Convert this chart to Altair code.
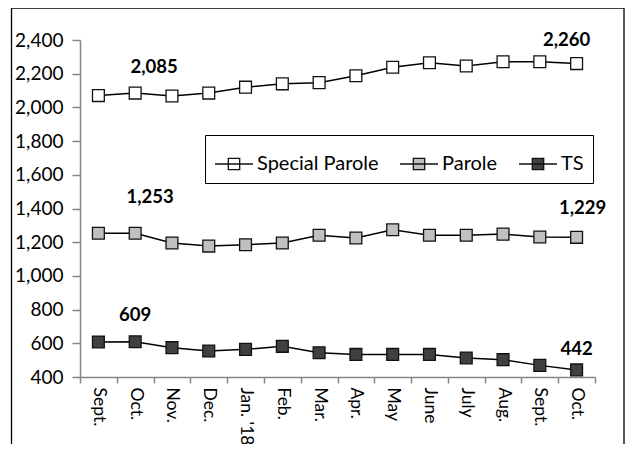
import altair as alt
import pandas as pd

months = ["Sept.", "Oct.", "Nov.", "Dec.", "Jan. '18", "Feb.", "Mar.", "Apr.",
          "May", "June", "July", "Aug.", "Sept.", "Oct."]
series_names = ["Special Parole", "Parole", "TS"]
special_parole = [2070, 2085, 2068, 2085, 2120, 2140, 2147, 2188, 2238, 2265, 2246, 2271, 2271, 2260]
parole = [1253, 1253, 1195, 1177, 1185, 1195, 1241, 1225, 1274, 1241, 1241, 1248, 1231, 1229]
ts = [608, 609, 574, 554, 564, 582, 544, 534, 534, 534, 513, 503, 469, 442]
fills = ["#FFFFFF", "#C0C0C0", "#404040"]

rows = []
for name, vals in zip(series_names, [special_parole, parole, ts]):
    for i, v in enumerate(vals):
        rows.append({"idx": i, "series": name, "value": v})
df = pd.DataFrame(rows)

FONT = "Lato"
label_expr = "[" + ",".join("'" + m.replace("'", "\\'") + "'" for m in months) + "][datum.value]"

x_enc = alt.X("idx:O",
              scale=alt.Scale(type="band", paddingInner=0, paddingOuter=0),
              axis=alt.Axis(title=None, labelExpr=label_expr, labelAngle=90,
                            tickBand="extent", tickSize=6, labelPadding=4,
                            labelFontSize=17.5, labelFont=FONT, labelColor="#000",
                            domainColor="#868686", tickColor="#868686",
                            domainWidth=1.5, tickWidth=1.5))
y_enc = alt.Y("value:Q",
              scale=alt.Scale(domain=[400, 2400], nice=False, zero=False),
              axis=alt.Axis(title=None, values=list(range(400, 2401, 200)), format=",.0f",
                            grid=False, tickSize=8, labelPadding=9,
                            labelFontSize=19, labelFont=FONT, labelColor="#000",
                            domainColor="#868686", tickColor="#868686",
                            domainWidth=1.5, tickWidth=1.5))

base = alt.Chart(df)
lines = base.mark_line(color="#000", strokeWidth=1.5).encode(x=x_enc, y=y_enc, detail="series:N")
points = base.mark_point(shape="square", filled=True, size=140, stroke="#111",
                         strokeWidth=1.3, opacity=1).encode(
    x=x_enc, y=y_enc,
    fill=alt.Fill("series:N",
                  scale=alt.Scale(domain=series_names, range=fills),
                  legend=alt.Legend(title=None, orient="none", legendX=125, legendY=95,
                                    direction="horizontal",
                                    symbolType="M-1,0H1M-0.3,-0.3H0.3V0.3H-0.3Z",
                                    symbolSize=1444, symbolStrokeColor="#111",
                                    symbolStrokeWidth=1.3, labelFontSize=20,
                                    labelFont=FONT, labelColor="#000", labelOffset=3,
                                    columnPadding=18, padding=9,
                                    strokeColor="#000", fillColor="#FFFFFF")),
    order=alt.Order("series:N"))

# data labels (month index, value, text)
label_specs = [
    (1, special_parole[1], 19, -26),
    (13, special_parole[13], -10, -24),
    (1, parole[1], 15, -36),
    (13, parole[13], 6, -29),
    (1, ts[1], 0, -27),
    (13, ts[13], 0, -21),
]
label_layers = []
for idx, val, dx, dy in label_specs:
    ldf = pd.DataFrame({"idx": [idx], "value": [val], "text": [f"{val:,}"]})
    label_layers.append(
        alt.Chart(ldf).mark_text(fontWeight="bold", fontSize=18.5, font=FONT,
                                 color="#000", dx=dx, dy=dy).encode(
            x=x_enc, y=y_enc, text="text:N"))

frame_data = alt.Data(values=[{"a": 1}])
left_border = alt.Chart(frame_data).mark_rule(color="#000", strokeWidth=1.3).encode(
    x=alt.value(-68.5), y=alt.value(-32), y2=alt.value(404))
right_border = alt.Chart(frame_data).mark_rule(color="#000", strokeWidth=1.3).encode(
    x=alt.value(544), y=alt.value(-32), y2=alt.value(404))
top_border = alt.Chart(frame_data).mark_rule(color="#000", strokeWidth=1.3).encode(
    x=alt.value(-68.5), x2=alt.value(544), y=alt.value(-32))

chart = alt.layer(lines, points, *label_layers, left_border, right_border, top_border).properties(
    width=515, height=337,
    autosize=alt.AutoSizeParams(type="none"),
    padding={"left": 72, "top": 32, "right": 30, "bottom": 67},
    background="#FFFFFF",
).configure_view(stroke=None)

chart.save("out.html", embed_options={"renderer": "svg", "actions": False})
